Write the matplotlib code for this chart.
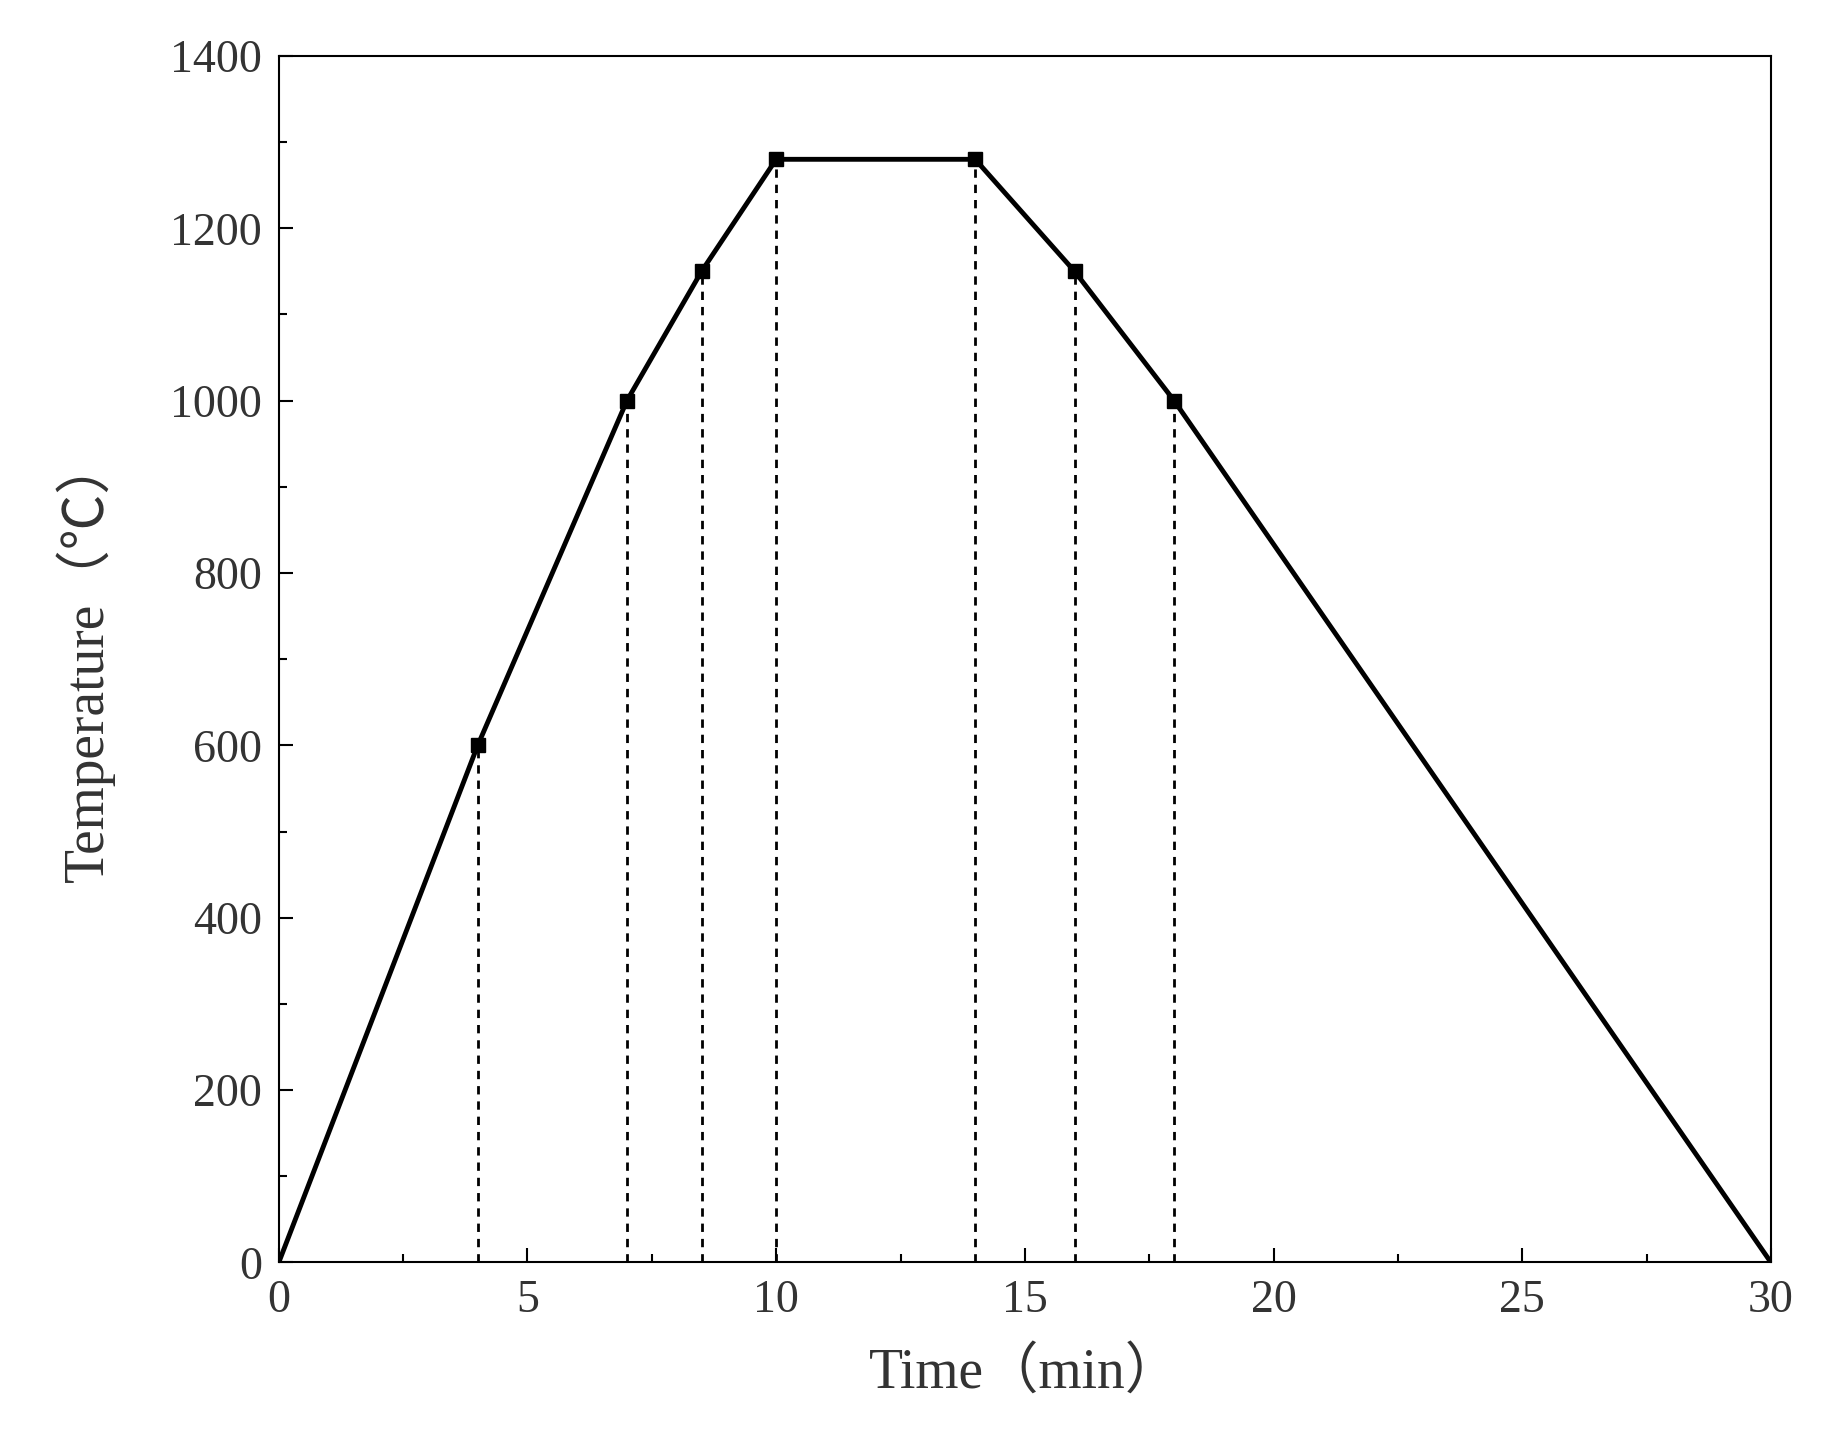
import matplotlib
matplotlib.use("Agg")
import matplotlib.pyplot as plt
from matplotlib.ticker import MultipleLocator

# ── Data ──────────────────────────────────────────────────────────────────────
time_min = [0, 4, 7, 8.5, 10, 14, 16, 18, 30]
temp_c   = [0, 600, 1000, 1150, 1280, 1280, 1150, 1000, 0]
marker_idx = [1, 2, 3, 4, 5, 6, 7]   # points with square markers + dashed drop lines

FONT = ["Liberation Serif", "Noto Sans CJK SC", "DejaVu Sans"]
GREY = "#333333"

fig = plt.figure(figsize=(18.22, 14.33), dpi=100)
ax = fig.add_axes([0.153, 0.119, 0.819, 0.842])

ax.plot(time_min, temp_c, color="black", linewidth=3.5)
mx = [time_min[i] for i in marker_idx]
my = [temp_c[i] for i in marker_idx]
ax.plot(mx, my, "s", color="black", markersize=10, linestyle="none")
ax.vlines(mx, 0, my, colors="black", linestyles=(0, (3, 2.5)), linewidth=2)

ax.set_xlim(0, 30)
ax.set_ylim(0, 1400)
ax.xaxis.set_major_locator(MultipleLocator(5))
ax.xaxis.set_minor_locator(MultipleLocator(2.5))
ax.yaxis.set_major_locator(MultipleLocator(200))
ax.yaxis.set_minor_locator(MultipleLocator(100))
ax.tick_params(which="both", direction="in", width=1.5, colors="black",
               labelcolor=GREY, labelsize=33, pad=12)
ax.tick_params(which="major", length=10)
ax.tick_params(which="minor", length=6)
for lab in ax.get_xticklabels() + ax.get_yticklabels():
    lab.set_family(FONT)
for sp in ax.spines.values():
    sp.set_linewidth(1.5)

ax.set_xlabel("Time（min）", fontsize=40, color=GREY, family=FONT, labelpad=18)
ax.set_ylabel("Temperature（℃）", fontsize=40, color=GREY, family=FONT, labelpad=40)

fig.savefig("out.png", dpi=100)
